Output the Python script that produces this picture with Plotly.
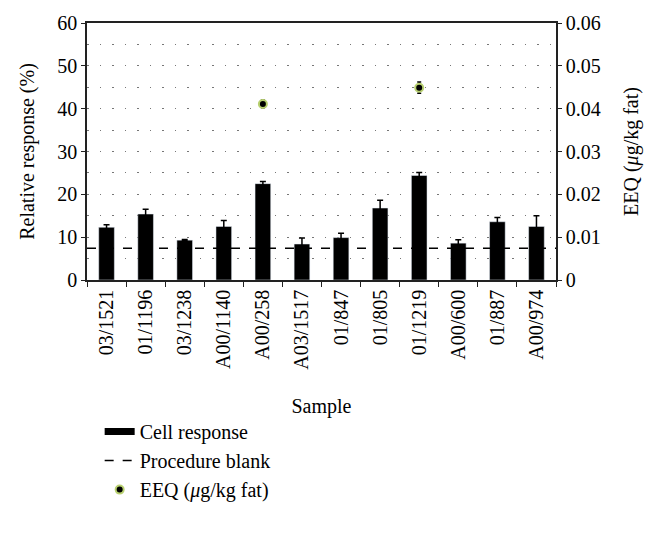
import plotly.graph_objects as go

samples = ["03/1521", "01/1196", "03/1238", "A00/1140", "A00/258", "A03/1517",
           "01/847", "01/805", "01/1219", "A00/600", "01/887", "A00/974"]
cell_response = [12.3, 15.4, 9.3, 12.5, 22.5, 8.4, 9.9, 16.8, 24.4, 8.6, 13.6, 12.5]
cell_err = [0.6, 1.1, 0.15, 1.4, 0.5, 1.4, 1.0, 1.8, 0.7, 0.8, 1.0, 2.5]
procedure_blank = 7.4
eeq_samples = ["A00/258", "01/1219"]
eeq_values = [0.0411, 0.0449]
eeq_err = [0.0009, 0.0013]

FONT = "Liberation Serif"
fig = go.Figure()

fig.add_trace(go.Bar(
    x=samples, y=cell_response, width=0.4, marker_color="black",
    error_y=dict(type="data", array=cell_err, color="black", thickness=1.5, width=3),
    showlegend=False, yaxis="y"))

# legend entries
fig.add_trace(go.Scatter(x=[None], y=[None], mode="lines", name="Cell response",
                         line=dict(color="black", width=7)))
fig.add_trace(go.Scatter(x=[None], y=[None], mode="lines", name="Procedure blank",
                         line=dict(color="black", width=1.5, dash="dash")))

fig.add_trace(go.Scatter(
    x=eeq_samples, y=eeq_values, mode="markers", name="EEQ (<i>μ</i>g/kg fat)",
    marker=dict(color="black", size=8, line=dict(color="#b8d070", width=2)),
    error_y=dict(type="data", array=eeq_err, color="black", thickness=1.5, width=2),
    yaxis="y2"))

fig.add_shape(type="line", xref="paper", yref="y", x0=0, x1=1,
              y0=procedure_blank, y1=procedure_blank,
              line=dict(color="black", width=1.5, dash="dash"))

grid = dict(showgrid=True, gridcolor="#777", gridwidth=1, griddash="1.5px,11px")

fig.update_layout(
    width=656, height=541,
    margin=dict(l=79, r=108, t=15, b=269),
    plot_bgcolor="white", paper_bgcolor="white",
    font=dict(family=FONT, size=20, color="black"),
    bargap=0.6,
    xaxis=dict(categoryorder="array", categoryarray=samples, automargin=False,
               showline=True, linecolor="#222", linewidth=1.5, mirror=True,
               ticks="outside", ticklen=5, tickcolor="#222", tickson="boundaries",
               tickangle=-90, tickfont=dict(size=20),
               title=dict(text="Sample", font=dict(size=20), standoff=30),
               showgrid=False),
    yaxis=dict(range=[0, 60], dtick=10, showline=True, linecolor="#222", linewidth=1.5,
               automargin=False,
               ticks="outside", ticklen=4, tickcolor="#222", zeroline=False,
               title=dict(text="Relative response (%)", font=dict(size=20), standoff=17),
               minor=dict(dtick=5, **grid), **grid),
    yaxis2=dict(range=[0, 0.06], dtick=0.01, overlaying="y", side="right",
                showline=True, linecolor="#222", linewidth=1.5, automargin=False,
                ticks="outside", ticklen=4, tickcolor="#222", showgrid=False,
                zeroline=False,
                title=dict(text="EEQ (<i>μ</i>g/kg fat)", font=dict(size=20), standoff=24)),
    legend=dict(x=0.027, xanchor="left", y=-0.514, yanchor="top",
                font=dict(size=20), tracegroupgap=0, itemwidth=30,
                bgcolor="rgba(0,0,0,0)"),
)

fig.write_html("out.html")
